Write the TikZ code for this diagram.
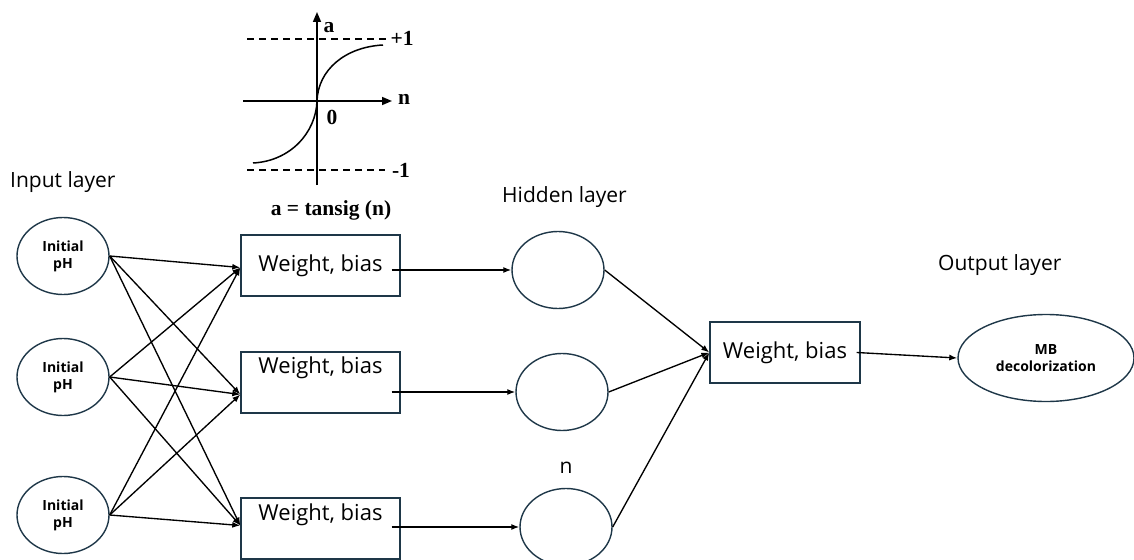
\documentclass[tikz,border=0pt]{standalone}
\usepackage{fontspec}
\setmainfont{Open Sans}
\newfontfamily\tnr{Liberation Serif}
\usepackage{xcolor}
\definecolor{nodeedge}{RGB}{30,55,72}
\usetikzlibrary{shapes.geometric,arrows.meta,positioning}
\tikzset{
  neuron/.style={draw=nodeedge,line width=1.4pt,ellipse,minimum width=92pt,minimum height=77pt,inner sep=0pt,align=center,font=\fontsize{14}{17}\selectfont\bfseries},
  wbox/.style={draw=nodeedge,line width=1.4pt,rectangle,minimum width=159pt,minimum height=61pt,inner sep=0pt,font=\fontsize{22}{26}\selectfont},
  wtext/.style={font=\fontsize{22}{26}\selectfont,inner sep=0pt},
  link/.style={-{Latex[length=8pt,width=6pt]},line width=1.35pt},
  layertitle/.style={font=\fontsize{21}{25}\selectfont,inner sep=0pt},
  axlabel/.style={font=\tnr\bfseries\fontsize{21.5}{25}\selectfont,inner sep=0pt},
  asym/.style={line width=1.2pt,dash pattern=on 7pt off 5pt}
}
\begin{document}
\begin{tikzpicture}[x=1pt,y=-1pt]
\useasboundingbox (0,0) rectangle (1134,559);
% ---- funkcja aktywacji tansig ----
\draw[line width=1.5pt,-{Triangle[length=10pt,width=8pt]}] (317,185) -- (317,12);
\draw[line width=1.5pt,-{Triangle[length=10pt,width=8pt]}] (243,101) -- (392,101);
\draw[asym] (247,39) -- (387,39);
\draw[asym] (247,170) -- (385,170);
\draw[line width=1.5pt] (253,163) .. controls (291,161) and (316,132) .. (317,101)
  .. controls (318,70) and (345,47) .. (383,45);
\node[axlabel] (ya) at (329,28) {a};
\node[axlabel] (xn) at (404,99) {n};
\node[axlabel] (pone) at (402,38) {+1};
\node[axlabel] (mone) at (401,170) {-1};
\node[axlabel] (zero) at (332,117) {0};
\node[axlabel] (tansig) at (331,210) {a = tansig (n)};
% ---- warstwy ----
\node[layertitle,anchor=base west] (inlayer) at (10,187) {Input layer};
\node[layertitle,anchor=base west] (hidlayer) at (502,202) {Hidden layer};
\node[layertitle,anchor=base west] (outlayer) at (938,270) {Output layer};
% wejscia
\node[neuron] (in1) at (63,256) {Initial\\pH};
\node[neuron] (in2) at (63,377) {Initial\\pH};
\node[neuron] (in3) at (63,515) {Initial\\pH};
% wagi
\node[wbox] (w1) at (320.5,265.5) {Weight, bias};
\node[wbox] (w2) at (320.5,382.5) {};
\node[wtext] (w2txt) at (320.5,368) {Weight, bias};
\node[wbox] (w3) at (320.5,528.5) {};
\node[wtext] (w3txt) at (320.5,515) {Weight, bias};
\coordinate (w1in) at ([yshift=-2pt]w1.west);
\coordinate (w2in) at ([yshift=-12pt]w2.west);
\coordinate (w3in) at ([yshift=3pt]w3.west);
% ukryte
\node[neuron] (h1) at (558,270) {};
\node[neuron] (h2) at (562,392) {};
\node[neuron] (h3) at (566,527) {};
\node[layertitle,anchor=base] (hn) at (566,473) {n};
% wyjscie
\node[wbox,minimum width=150pt] (wo) at (785,352.5) {Weight, bias};
\node[neuron,minimum width=176pt,minimum height=87pt] (out) at (1046,358) {MB\\decolorization};
% ---- polaczenia ----
\foreach \i in {1,2,3}{
  \foreach \j in {1,2,3}{ \draw[link] (in\i.east) -- (w\j in);}
  \draw[link] ([xshift=-9pt]w\i.east |- h\i.west) -- (h\i.west);
  \draw[link] (h\i.east) -- (wo.west);
}
\draw[link] ([xshift=-4pt]wo.east) -- (out.west);
\end{tikzpicture}
\end{document}
